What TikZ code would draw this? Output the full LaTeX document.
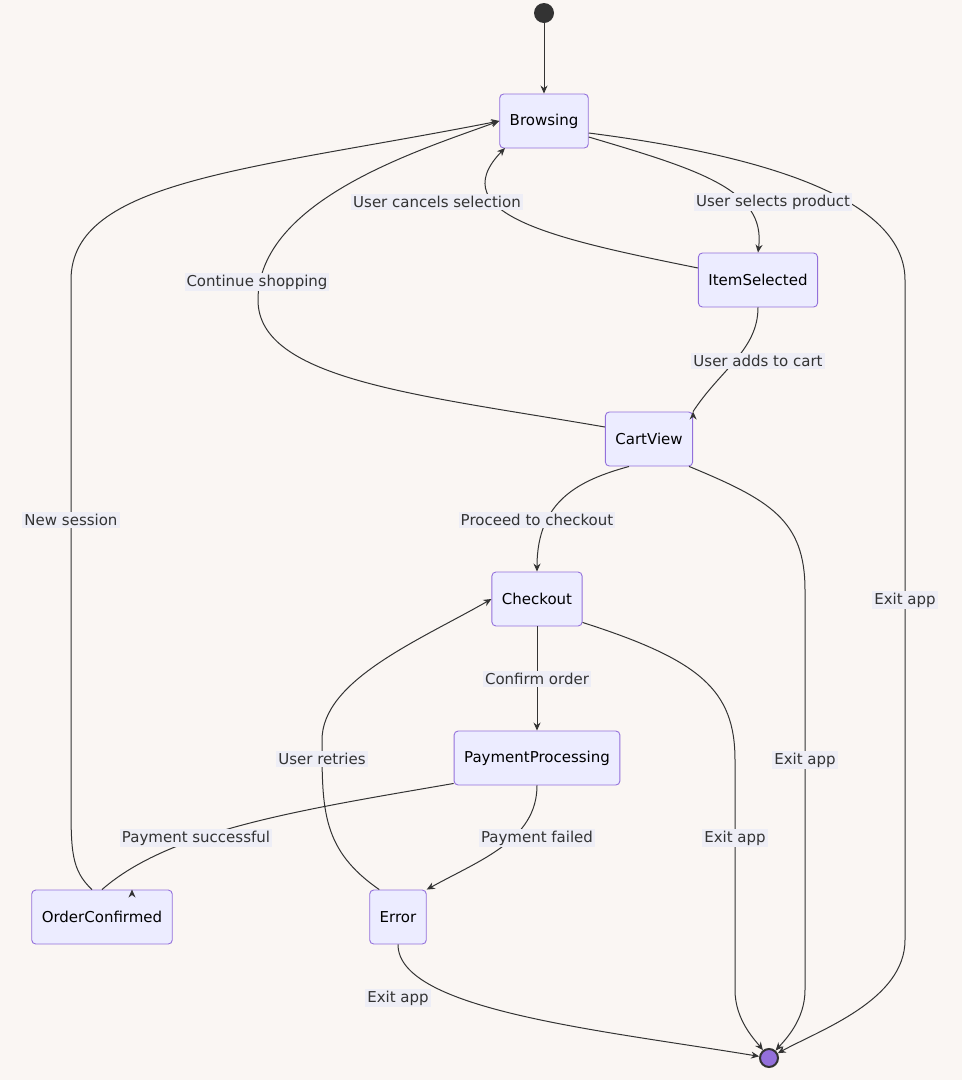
\documentclass[tikz,border=0pt]{standalone}
\usepackage{fontspec}
\setmainfont{DejaVu Sans}
\usetikzlibrary{arrows.meta}
\definecolor{bgc}{HTML}{FAF6F3}
\definecolor{nodefill}{HTML}{ECECFF}
\definecolor{nodeline}{HTML}{9370DB}
\definecolor{lblfill}{HTML}{EEEEF6}
\definecolor{linec}{HTML}{333333}
\begin{document}
\begin{tikzpicture}[x=1pt, y=-1pt, >={Stealth[length=8pt,width=7pt]},
  state/.style={draw=nodeline, fill=nodefill, rounded corners=4pt, minimum height=54pt, inner xsep=10pt, font=\fontsize{15}{18}\selectfont, line width=0.9pt},
  lbl/.style={fill=lblfill, inner sep=2pt, text=linec, font=\fontsize{15}{18}\selectfont},
  edge/.style={draw=linec, line width=1pt, ->}]

\fill[bgc] (0,0) rectangle (962,1080);
\useasboundingbox (0,0) rectangle (962,1080);

% states
\node [circle, fill=linec, minimum size=20pt, inner sep=0] (start) at (544,13) {};
\node [state] (browsing) at (544,121) {Browsing};
\node [state] (itemsel) at (758,280) {ItemSelected};
\node [state] (cart) at (649,439) {CartView};
\node [state] (checkout) at (537,599) {Checkout};
\node [state] (payment) at (537,758) {PaymentProcessing};
\node [state] (confirmed) at (102,917) {OrderConfirmed};
\node [state] (error) at (398,917) {Error};
\node [circle, draw=linec, line width=2pt, fill=nodeline, minimum size=18pt, inner sep=0] (end) at (769,1058) {};

% transitions
\draw [edge] (start) -- (browsing);
\draw [edge] (browsing.east) ++(0,16) .. controls (700,170) and (766,190) .. (itemsel.north);
\draw [edge] (itemsel.west) ++(0,-12) .. controls (560,240) and (440,215) .. (505,148);
\draw [edge] (browsing.east) ++(0,12) .. controls (800,160) and (905,210) .. (905,280) -- (905,940) .. controls (905,1000) and (820,1030) .. (end);
\draw [edge] (itemsel.south) .. controls (758,350) and (720,370) .. (cart.north east) ++(0,0);
\draw [edge] (cart.west) ++(0,-12) .. controls (420,395) and (258,380) .. (258,300) .. controls (258,200) and (420,150) .. (browsing.west);
\draw [edge] (cart.south) ++(-20,0) .. controls (580,480) and (537,500) .. (checkout.north);
\draw [edge] (cart.south east) ++(-4,0) .. controls (770,500) and (805,520) .. (805,590) -- (805,990) .. controls (805,1020) and (785,1040) .. (end);
\draw [edge] (checkout) -- (payment);
\draw [edge] (checkout.south east) ++(0,-4) .. controls (700,660) and (735,690) .. (735,760) -- (735,990) .. controls (735,1020) and (755,1040) .. (end);
\draw [edge] (payment.south west) ++(0,-2) .. controls (300,810) and (170,830) .. (confirmed.north) ++(30,0);
\draw [edge] (payment.south) .. controls (537,840) and (480,860) .. (error.north east);
\draw [edge] (error.north west) ++(10,0) .. controls (322,850) and (322,810) .. (322,740) .. controls (322,680) and (420,640) .. (checkout.west);
\draw [edge] (confirmed.north) ++(-10,0) .. controls (71,870) and (71,850) .. (71,800) -- (71,280) .. controls (71,180) and (250,170) .. (browsing.west);
\draw [edge] (error.south) .. controls (398,1010) and (600,1030) .. (end);

% labels
\node [lbl] (l1) at (773,202) {User selects product};
\node [lbl] (l2) at (437,202) {User cancels selection};
\node [lbl] (l3) at (905,600) {Exit app};
\node [lbl] (l4) at (758,361) {User adds to cart};
\node [lbl] (l5) at (257,282) {Continue shopping};
\node [lbl] (l6) at (537,520) {Proceed to checkout};
\node [lbl] (l7) at (805,760) {Exit app};
\node [lbl] (l8) at (537,679) {Confirm order};
\node [lbl] (l9) at (735,838) {Exit app};
\node [lbl] (l10) at (196,838) {Payment successful};
\node [lbl] (l11) at (537,838) {Payment failed};
\node [lbl] (l12) at (322,759) {User retries};
\node [lbl] (l13) at (71,520) {New session};
\node [lbl] (l14) at (398,998) {Exit app};
\end{tikzpicture}
\end{document}
